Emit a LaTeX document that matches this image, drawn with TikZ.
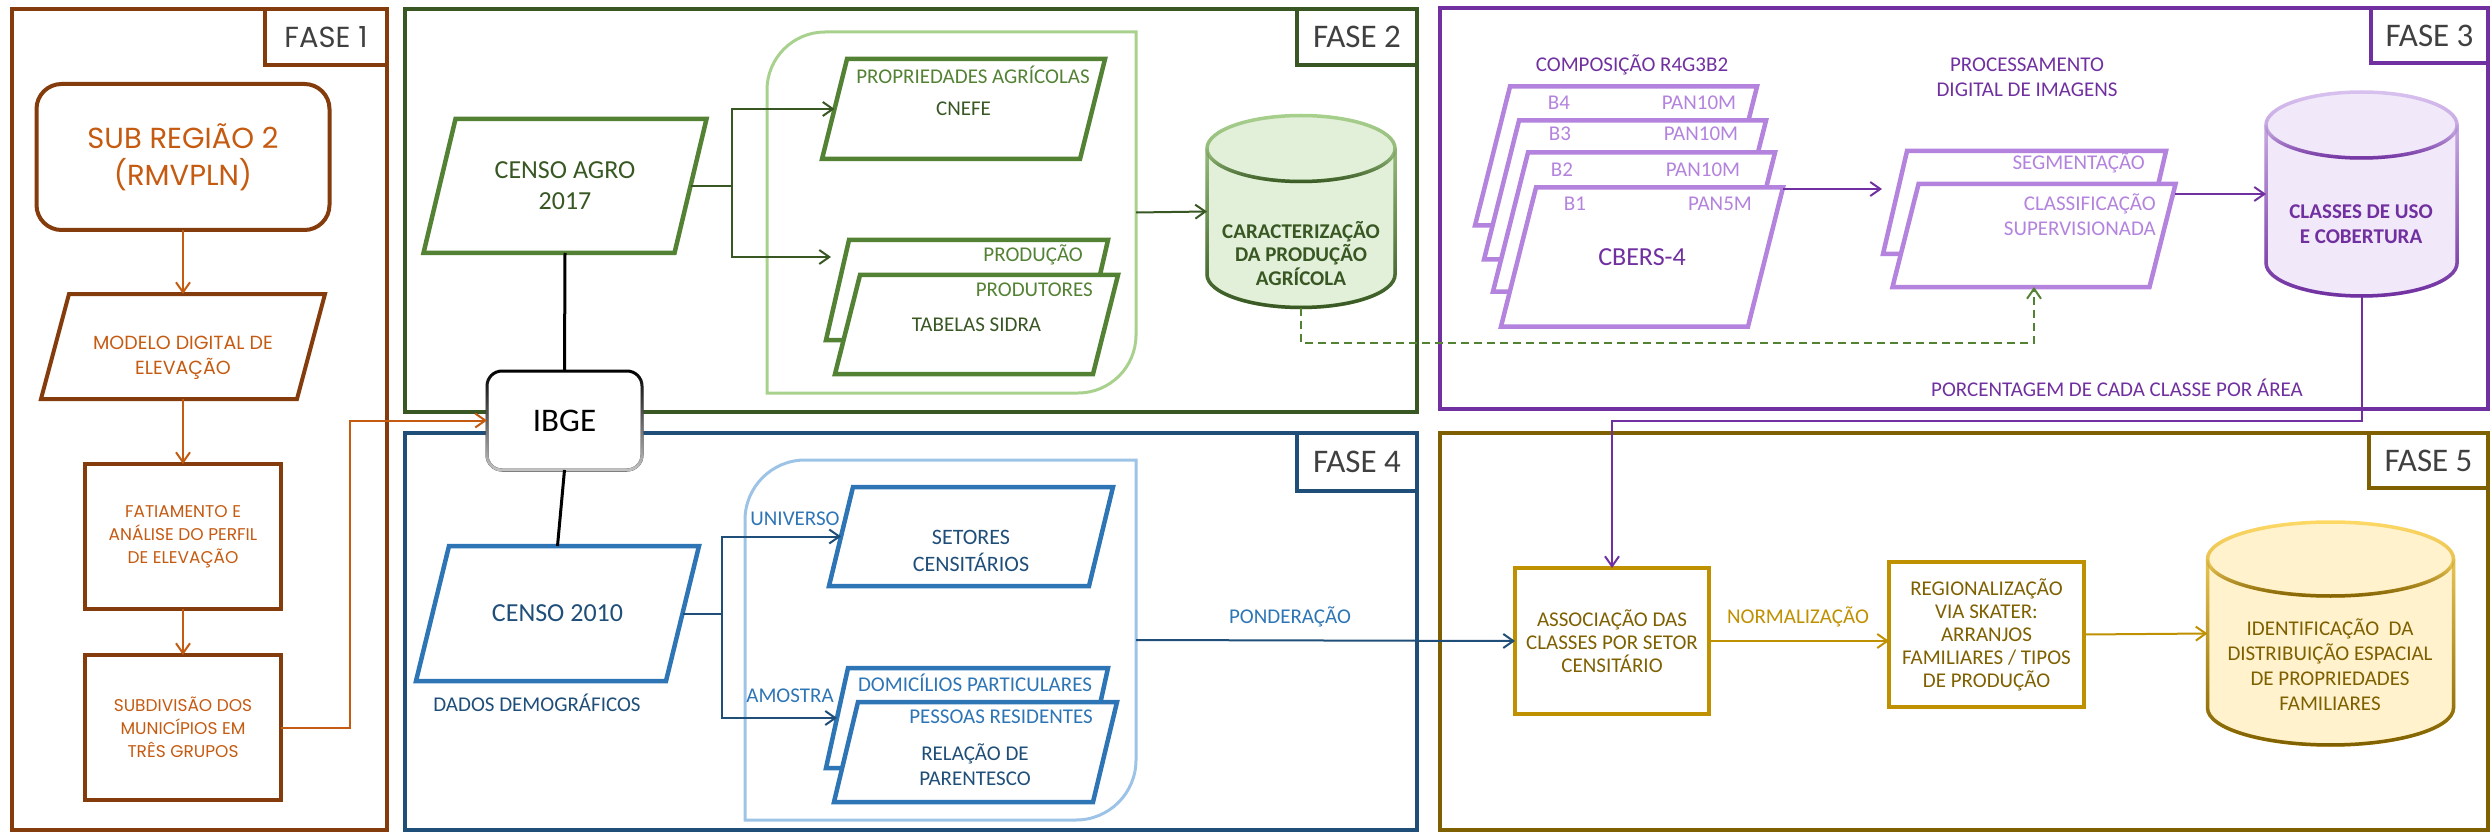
\documentclass[tikz,border=0pt]{standalone}
\usepackage{fontspec}
\setmainfont{Carlito}
\newfontfamily\gothic{Poppins}
\usepackage{tikz}
\usetikzlibrary{calc,positioning,arrows.meta,fadings}
\tikzfading[name=fadeup, top color=transparent!100, bottom color=transparent!0]

\definecolor{f1dark}{HTML}{843C0C}
\definecolor{f1text}{HTML}{C55A11}
\definecolor{f2dark}{HTML}{385723}
\definecolor{f2mid}{HTML}{548235}
\definecolor{f2light}{HTML}{A9D18E}
\definecolor{f2fill}{HTML}{E2F0D9}
\definecolor{f3dark}{HTML}{7030A0}
\definecolor{f3mid}{HTML}{B383DE}
\definecolor{f3light}{HTML}{D9C2F0}
\definecolor{f3fill}{HTML}{F1E8F9}
\definecolor{f4dark}{HTML}{1F4E79}
\definecolor{f4mid}{HTML}{2E75B6}
\definecolor{f4light}{HTML}{9DC3E6}
\definecolor{f5dark}{HTML}{7F6000}
\definecolor{f5mid}{HTML}{BF9000}
\definecolor{f5light}{HTML}{FFD966}
\definecolor{f5fill}{HTML}{FFF2CC}

\begin{document}
\begin{tikzpicture}[x=1pt, y=-1pt, >={Straight Barb[length=10pt,width=14pt]},
  phase/.style={draw, line width=4.5pt, inner sep=0pt, outer sep=0pt},
  phlabel/.style={draw, fill=white, line width=4.5pt, inner sep=0pt, outer sep=0pt, anchor=north east, text=black!75, font=\fontsize{33}{40}\selectfont},
  box/.style={inner sep=0pt, outer sep=0pt, align=center},
  txt/.style={inner sep=0pt, align=center, font=\fontsize{21}{25}\selectfont},
  bigtxt/.style={inner sep=0pt, align=center, font=\fontsize{26}{31}\selectfont},
  cyltxt/.style={inner sep=0pt, align=center, font=\bfseries\fontsize{21}{23.5}\selectfont},
  gtxt/.style={inner sep=0pt, align=center, text=f1text, font=\gothic\fontsize{17}{23}\selectfont},
  arr/.style={->, line width=2pt},
  pics/slant/.style n args={3}{code={\draw[pic actions] (-#1+#3,-#2) -- (#1+#3,-#2) -- (#1-#3,#2) -- (-#1-#3,#2) -- cycle;}},
  pics/dbase/.style n args={3}{code={
    \draw[pic actions] (-#1,-#3+#2) -- (-#1,#3-#2) arc[start angle=180,end angle=0,x radius=#1,y radius=#2] -- (#1,-#3+#2) arc[start angle=0,end angle=-180,x radius=#1,y radius=#2] -- cycle;
    \draw[pic actions, fill=none] (-#1,-#3+#2) arc[start angle=180,end angle=0,x radius=#1,y radius=#2];}}]
\useasboundingbox (0,0) rectangle (2491,834);

% FASE 1
\node[phase, draw=f1dark, minimum width=375pt, minimum height=821pt] (fase1) at (199.5,419.5) {};
\node[phlabel, draw=f1dark, minimum width=122pt, minimum height=56pt, font=\gothic\fontsize{29}{34}\selectfont] (lab1) at (fase1.north east) {FASE 1};
\node[box, draw=f1dark, line width=4pt, rounded corners=25pt, minimum width=293pt, minimum height=146pt, text=f1text, font=\gothic\fontsize{29}{37}\selectfont] (subreg) at (183,157) {SUB REGIÃO 2\\(RMVPLN)};
\pic[draw=f1dark, line width=4pt] at (183,346.5) {slant={128}{52.5}{14}};
\node[box, minimum width=256pt, minimum height=105pt] (modelo) at (183,346.5) {};
\node[gtxt, font=\gothic\fontsize{19}{25}\selectfont] (modelotxt) at (183,358) {MODELO DIGITAL DE\\ELEVAÇÃO};
\node[box, gtxt, draw=f1dark, line width=4pt, minimum width=196pt, minimum height=145pt] (fatia) at (183,536.5) {FATIAMENTO E\\ANÁLISE DO PERFIL\\DE ELEVAÇÃO};
\node[box, gtxt, draw=f1dark, line width=4pt, minimum width=196pt, minimum height=145pt] (subdiv) at (183,727.5) {SUBDIVISÃO DOS\\MUNICÍPIOS EM\\TRÊS GRUPOS};
\draw[arr, f1text] (subreg.south) -- (modelo.north);
\draw[arr, f1text] (modelo.south) -- (fatia.north);
\draw[arr, f1text] (fatia.south) -- (subdiv.north);

% FASE 2
\node[phase, draw=f2dark, minimum width=1012pt, minimum height=403pt] (fase2) at (911,210.5) {};
\node[phlabel, draw=f2dark, minimum width=120pt, minimum height=56pt] (lab2) at (fase2.north east) {FASE 2};
\draw[f2light, line width=3pt] (767,393) -- (767,90) arc[start angle=180,end angle=270,radius=58] -- (1136,32) -- (1136,335) arc[start angle=0,end angle=90,radius=58] -- cycle;
\node[box, minimum width=369pt, minimum height=361pt] (agrogrp) at (951.5,212.5) {};
\pic[draw=f2mid, line width=4.5pt] at (565,186) {slant={125.5}{67}{16}};
\node[box, bigtxt, text=f2dark, minimum width=251pt, minimum height=134pt] (censoagro) at (565,186) {CENSO AGRO\\2017};
\pic[draw=f2mid, line width=4.5pt] at (963.5,109) {slant={129}{50}{12.5}};
\node[box, txt, text=f2dark, minimum width=258pt, minimum height=100pt] (cnefe) at (963.5,109) {CNEFE};
\node[txt, text=f2mid] (propagr) at (973,75) {PROPRIEDADES AGRÍCOLAS};
\pic[draw=f2mid, fill=white, line width=4.5pt] at (967,290) {slant={129.5}{50}{11.5}};
\node[box, minimum width=259pt, minimum height=100pt] (prodback) at (967,290) {};
\node[txt, text=f2mid, anchor=east] (producao) at (1083,255) {PRODUÇÃO};
\pic[draw=f2mid, fill=white, line width=4.5pt] at (976.5,324.5) {slant={129}{49.5}{12.5}};
\node[box, txt, text=f2dark, minimum width=258pt, minimum height=99pt] (prodfront) at (976.5,324.5) {TABELAS SIDRA};
\node[txt, text=f2mid, anchor=east] (produtores) at (1093,290) {PRODUTORES};
\coordinate (agrosplit) at (732,186);
\coordinate (prodin) at (831,257);
\draw[arr, f2dark] (censoagro.east) -- (agrosplit) |- (cnefe.west);
\draw[arr, f2dark] (agrosplit) |- (prodin);
\pic[draw=f2light, fill=f2fill, line width=3.5pt] at (1301,211.5) {dbase={94}{33}{96}};
\pic[draw=f2dark, line width=3.5pt, path fading=fadeup] at (1301,211.5) {dbase={94}{33}{96}};
\node[box, minimum width=188pt, minimum height=192pt] (carac) at (1301,211.5) {};
\node[cyltxt, text=f2dark] (caractxt) at (1301,253.5) {CARACTERIZAÇÃO\\DA PRODUÇÃO\\AGRÍCOLA};
\draw[arr, f2dark] (agrogrp.east) -- (carac.west);

% FASE 4
\node[phase, draw=f4dark, minimum width=1012pt, minimum height=397pt] (fase4) at (911,631.5) {};
\node[phlabel, draw=f4dark, minimum width=120pt, minimum height=58pt] (lab4) at (fase4.north east) {FASE 4};
\draw[f4light, line width=3pt] (745,820) -- (745,520) arc[start angle=180,end angle=270,radius=60] -- (1136,460) -- (1136,760) arc[start angle=0,end angle=90,radius=60] -- cycle;
\node[box, minimum width=391pt, minimum height=360pt] (censogrp) at (940.5,640) {};
\pic[draw=f4mid, line width=4.5pt] at (557.5,613.5) {slant={125}{67.5}{16.5}};
\node[box, bigtxt, text=f4dark, minimum width=250pt, minimum height=135pt] (censo10) at (557.5,613.5) {CENSO 2010};
\node[txt, text=f4dark] (dados) at (537,703) {DADOS DEMOGRÁFICOS};
\pic[draw=f4mid, line width=4.5pt] at (971,536.5) {slant={130}{49.5}{12}};
\node[box, minimum width=260pt, minimum height=99pt] (setores) at (971,536.5) {};
\node[txt, text=f4dark, font=\fontsize{22}{27}\selectfont] (setorestxt) at (971,550.5) {SETORES\\CENSITÁRIOS};
\pic[draw=f4mid, fill=white, line width=4.5pt] at (967,718) {slant={130}{50}{11}};
\node[box, minimum width=260pt, minimum height=100pt] (domic) at (967,718) {};
\node[txt, text=f4mid] (domictxt) at (975,683) {DOMICÍLIOS PARTICULARES};
\pic[draw=f4mid, fill=white, line width=4.5pt] at (975.5,752) {slant={129.5}{50}{12}};
\node[box, minimum width=259pt, minimum height=100pt] (pessoas) at (975.5,752) {};
\node[txt, text=f4mid, anchor=east] (pessoastxt) at (1093,717) {PESSOAS RESIDENTES};
\node[txt, text=f4dark] (parentesco) at (975,764.5) {RELAÇÃO DE\\PARENTESCO};
\node[txt, text=f4mid] (universo) at (795,519) {UNIVERSO};
\node[txt, text=f4mid] (amostra) at (790,696) {AMOSTRA};
\coordinate (censosplit) at (722,613.5);
\draw[arr, f4dark] (censo10.east) -- (censosplit) |- (setores.west);
\draw[arr, f4dark] (censosplit) |- (domic.west);

% IBGE
\node[box, draw=black, fill=white, line width=3pt, rounded corners=15pt, minimum width=155pt, minimum height=99pt, font=\fontsize{33}{40}\selectfont] (ibge) at (564.5,420.5) {IBGE};
\draw[gray!45, line width=3pt, rounded corners=15pt, path fading=fadeup] (ibge.south west) rectangle (ibge.north east);
\draw[black, line width=3pt] (censoagro.south) -- (ibge.north);
\draw[black, line width=3pt] (ibge.south) -- (censo10.north);
\draw[arr, f1text] (subdiv.east) -- ++(69,0) |- (ibge.west);

% FASE 3
\node[phase, draw=f3dark, minimum width=1048pt, minimum height=401pt] (fase3) at (1964,208.5) {};
\node[phlabel, draw=f3dark, minimum width=117pt, minimum height=55pt] (lab3) at (fase3.north east) {FASE 3};
\node[txt, text=f3dark] (compos) at (1632,65) {COMPOSIÇÃO R4G3B2};
\pic[draw=f3mid, fill=white, line width=4.5pt] at (1616,156) {slant={123.5}{69.5}{17.5}};
\node[txt, text=f3mid] (b4a) at (1559,103) {B4};
\node[txt, text=f3mid] (b4b) at (1699,103) {PAN10M};
\pic[draw=f3mid, fill=white, line width=4.5pt] at (1625,190) {slant={123.5}{69.5}{17.5}};
\node[txt, text=f3mid] (b3a) at (1560,134) {B3};
\node[txt, text=f3mid] (b3b) at (1701,134) {PAN10M};
\pic[draw=f3mid, fill=white, line width=4.5pt] at (1634,222) {slant={123.5}{69.5}{17.5}};
\node[txt, text=f3mid] (b2a) at (1562,170) {B2};
\node[txt, text=f3mid] (b2b) at (1703,170) {PAN10M};
\pic[draw=f3mid, fill=white, line width=4.5pt] at (1642,257) {slant={123.5}{69.5}{17.5}};
\node[box, bigtxt, text=f3dark, minimum width=247pt, minimum height=139pt] (b1) at (1642,257) {CBERS-4};
\node[txt, text=f3mid] (b1a) at (1575,204) {B1};
\node[txt, text=f3mid] (b1b) at (1720,204) {PAN5M};
\node[txt, text=f3dark] (procdig) at (2027,77.5) {PROCESSAMENTO\\DIGITAL DE IMAGENS};
\pic[draw=f3mid, fill=white, line width=4.5pt] at (2024.5,202.5) {slant={129.5}{51.5}{12}};
\node[box, minimum width=259pt, minimum height=103pt] (seg) at (2024.5,202.5) {};
\node[txt, text=f3mid, anchor=east] (segtxt) at (2145,163) {SEGMENTAÇÃO};
\pic[draw=f3mid, fill=white, line width=4.5pt] at (2034,235.5) {slant={128.5}{51.5}{13}};
\node[box, minimum width=257pt, minimum height=103pt] (class) at (2034,235.5) {};
\node[txt, text=f3mid, anchor=east, align=right] (classtxt) at (2156,214.5) {CLASSIFICAÇÃO\\SUPERVISIONADA};
\pic[draw=f3light, fill=f3fill, line width=3.5pt] at (2361.5,194) {dbase={95.5}{33}{102}};
\pic[draw=f3dark, line width=3.5pt, path fading=fadeup] at (2361.5,194) {dbase={95.5}{33}{102}};
\node[box, minimum width=191pt, minimum height=204pt] (ccob) at (2361.5,194) {};
\node[cyltxt, text=f3dark, font=\bfseries\fontsize{21}{25}\selectfont] (ccobtxt) at (2361,224.5) {CLASSES DE USO\\E COBERTURA};
\node[txt, text=f3dark] (porcent) at (2117,388) {PORCENTAGEM DE CADA CLASSE POR ÁREA};
\coordinate (b1out) at (1783,189);
\coordinate (segin) at (1882,189);
\coordinate (classout) at (2175,194);
\draw[arr, f3dark] (b1out) -- (segin);
\draw[arr, f3dark] (classout) -- (ccob.west);
\draw[arr, f2mid, dash pattern=on 8pt off 5pt] (carac.south) -- ++(0,35) -| (class.south);

% FASE 5
\node[phase, draw=f5dark, minimum width=1048pt, minimum height=397pt] (fase5) at (1964,631.5) {};
\node[phlabel, draw=f5dark, minimum width=119pt, minimum height=55pt] (lab5) at (fase5.north east) {FASE 5};
\node[box, txt, text=f5dark, draw=f5mid, line width=4.5pt, minimum width=194pt, minimum height=146pt, font=\fontsize{21}{23}\selectfont] (assoc) at (1612,641) {ASSOCIAÇÃO DAS\\CLASSES POR SETOR\\CENSITÁRIO};
\node[box, txt, text=f5dark, draw=f5mid, line width=4.5pt, minimum width=195pt, minimum height=145pt, font=\fontsize{21}{23}\selectfont] (reg) at (1986.5,634.5) {REGIONALIZAÇÃO\\VIA SKATER:\\ARRANJOS\\FAMILIARES / TIPOS\\DE PRODUÇÃO};
\pic[draw=f5light, fill=f5fill, line width=3.5pt] at (2330.5,633.5) {dbase={123}{37}{111.5}};
\pic[draw=f5dark, line width=3.5pt, path fading=fadeup] at (2330.5,633.5) {dbase={123}{37}{111.5}};
\node[box, minimum width=246pt, minimum height=223pt] (ident) at (2330.5,633.5) {};
\node[txt, text=f5dark] (identtxt) at (2330,665) {IDENTIFICAÇÃO\ \ DA\\DISTRIBUIÇÃO ESPACIAL\\DE PROPRIEDADES\\FAMILIARES};
\node[txt, text=f5mid] (norm) at (1798,617) {NORMALIZAÇÃO};
\draw[arr, f5mid] (assoc.east) -- (assoc.east -| reg.west);
\draw[arr, f5mid] (reg.east) -- (ident.west);
\draw[arr, f4dark] (censogrp.east) -- (assoc.west);
\node[txt, text=f4mid] (ponder) at (1290,617) {PONDERAÇÃO};
\draw[arr, f3dark] (ccob.south) -- ++(0,125) -| (assoc.north);
\end{tikzpicture}
\end{document}
